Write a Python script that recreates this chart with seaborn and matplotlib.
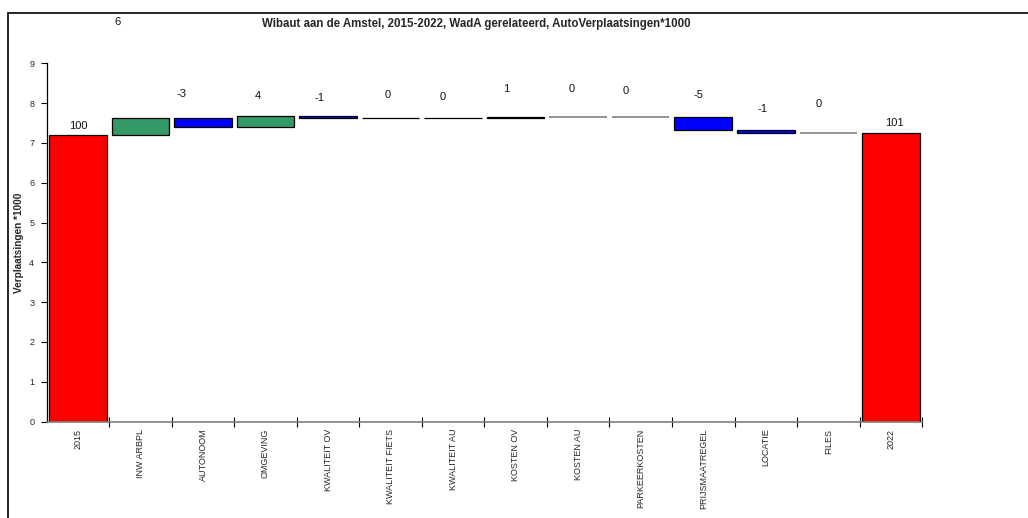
import numpy as np
import pandas as pd
import matplotlib
matplotlib.use("Agg")
import matplotlib.pyplot as plt
from matplotlib.patches import Rectangle
from matplotlib.ticker import FixedLocator
import seaborn as sns

# --- data -----------------------------------------------------------------
categories = ["2015", "INW ARBPL", "AUTONOOM", "OMGEVING", "KWALITEIT OV",
              "KWALITEIT FIETS", "KWALITEIT AU", "KOSTEN OV", "KOSTEN AU",
              "PARKEERKOSTEN", "PRIJSMAATREGEL", "LOCATIE", "FILES", "2022"]
base_trips = 7.19          # car trips *1000 in 2015 (index 100)
start_index = 100.0
# index-point changes per factor (2015 = 100)
changes = [6.2, -3.3, 3.8, -0.6, -0.1, -0.1, 0.6, 0.0, 0.0, -4.6, -1.0, 0.0]
# vertical placement of the value labels (y units)
label_y = [7.42, 10.03, 8.23, 8.17, 8.12, 8.19, 8.14, 8.34, 8.36, 8.31,
           8.20, 7.86, 7.97, 7.51]
label_dx = [0.0, -0.36, -0.35, -0.13, -0.13, -0.05, -0.17, -0.15, -0.10,
            -0.24, -0.07, -0.05, -0.15, 0.06]

# --- waterfall geometry ---------------------------------------------------
levels = start_index + np.concatenate([[0.0], np.cumsum(changes)])
end_index = levels[-1]
idx_vals = [start_index] + changes + [end_index]

scale = base_trips / start_index
bottoms = [0.0]
heights = [start_index * scale]
kinds = ["total"]
for i, d in enumerate(changes):
    lo = min(levels[i], levels[i + 1]) * scale
    bottoms.append(lo)
    heights.append(abs(d) * scale)
    kinds.append("up" if d > 0 else ("down" if d < 0 else "zero"))
bottoms.append(0.0)
heights.append(end_index * scale)
kinds.append("total")

df = pd.DataFrame({"factor": categories, "height": heights})
kind_colors = {"total": "#FF0000", "up": "#339966", "down": "#0000FF", "zero": "#FFFFFF"}
palette = {c: kind_colors[k] for c, k in zip(categories, kinds)}

# --- figure ---------------------------------------------------------------
sns.set_style("white")
plt.rcParams["font.family"] = ["Liberation Sans", "DejaVu Sans"]

fig = plt.figure(figsize=(10.28, 5.18), dpi=100)
ax = fig.add_axes([0.0454, 0.186, 0.8516, 0.692])

sns.barplot(data=df, x="factor", y="height", hue="factor", palette=palette,
            order=categories, hue_order=categories, legend=False,
            width=0.92, saturation=1, edgecolor="black", linewidth=0.9, ax=ax)

for p in ax.patches:
    i = int(round(p.get_x() + p.get_width() / 2))
    p.set_y(bottoms[i])
    if kinds[i] == "zero":
        p.set_edgecolor("#808080")
        p.set_linewidth(1.2)

for i, v in enumerate(idx_vals):
    ax.text(i + label_dx[i], label_y[i], f"{int(round(v))}", ha="center",
            va="center", fontsize=8, color="#111111")

ax.set_xlim(-0.5, len(categories) - 0.5)
ax.set_ylim(0, 9)
ax.set_yticks(range(0, 10))
ax.set_xlabel("")
ax.set_ylabel("Verplaatsingen *1000", fontsize=7.2, fontweight="bold")
ax.yaxis.set_label_coords(-0.0255, 0.5)

ax.tick_params(axis="y", direction="out", length=4, width=0.8, color="black",
               labelsize=6.5, pad=5, left=True)
ax.tick_params(axis="x", which="major", length=0, labelsize=6.5, pad=5,
               labelrotation=90)
ax.xaxis.set_minor_locator(FixedLocator(np.arange(0.5, len(categories), 1.0)))
ax.tick_params(axis="x", which="minor", direction="inout", length=7, width=0.8,
               color="black", bottom=True)
for lab in ax.get_xticklabels():
    lab.set_verticalalignment("top")

for s in ["top", "right"]:
    ax.spines[s].set_visible(False)
ax.spines["left"].set_color("black")
ax.spines["left"].set_linewidth(0.9)
ax.spines["bottom"].set_color("#808080")
ax.spines["bottom"].set_linewidth(1.2)

fig.text(0.4635, 0.954, "Wibaut aan de Amstel, 2015-2022, WadA gerelateerd, AutoVerplaatsingen*1000",
         ha="center", va="center", fontsize=8.3, fontweight="bold")

fig.patches.append(Rectangle((0.0078, -0.1), 1.2, 1.074, transform=fig.transFigure,
                             fill=False, edgecolor="black", linewidth=1.2, clip_on=False))

fig.savefig("out.png", dpi=100)
